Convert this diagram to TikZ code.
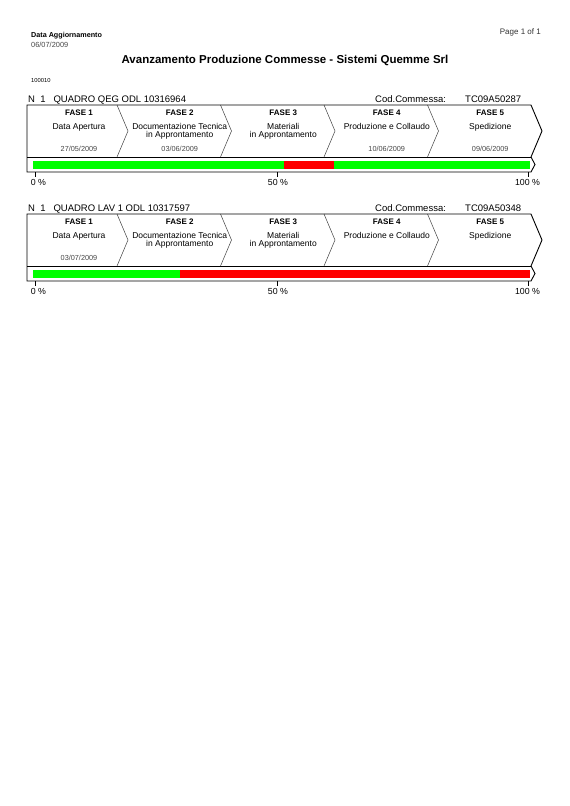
\documentclass[tikz,border=0pt]{standalone}
\usepackage{fontspec}
\setmainfont{Liberation Sans}
\definecolor{barGreen}{RGB}{0,255,0}
\definecolor{barRed}{RGB}{255,0,0}
\definecolor{dateGray}{RGB}{70,70,70}
\tikzset{
  txt/.style={inner sep=0pt, anchor=base},
  txtw/.style={inner sep=0pt, anchor=base west},
  txte/.style={inner sep=0pt, anchor=base east},
  fasefont/.style={txt, font=\fontsize{8}{9}\selectfont\bfseries},
  descfont/.style={txt, font=\fontsize{8.5}{9}\selectfont},
  datefont/.style={txt, font=\fontsize{7.3}{8}\selectfont, text=dateGray},
  headfont/.style={txtw, font=\fontsize{9.5}{11}\selectfont},
  pctfont/.style={txt, font=\fontsize{8.8}{10}\selectfont},
  frameline/.style={line width=0.9pt, black, line join=miter},
  chevline/.style={line width=0.5pt, black!75},
  tickline/.style={line width=0.8pt, black},
}
\newcommand{\qmframe}[3]{%
  % #1 prefix, #2 title, #3 code
  \node[headfont] (#1-title) at (28,102) {N~~1~~~#2};
  \node[headfont] (#1-codlab) at (375,102) {Cod.Commessa:};
  \node[headfont] (#1-code) at (465,102) {#3};
  \coordinate (#1-tl) at (27,105);
  \coordinate (#1-ml) at (27,157);
  \coordinate (#1-bl) at (27,172);
  \coordinate (#1-tr) at (531,105);
  \coordinate (#1-mr) at (531,157);
  \coordinate (#1-br) at (531,172);
  \coordinate (#1-tip) at (542,131);
  \coordinate (#1-btip) at (535,164.5);
  \foreach \xx in {117,220.5,324,427.5}{
    \draw[chevline] (\xx,105) -- (\xx+11,131) -- (\xx,157);
  }
  \draw[frameline] (#1-tip) -- (#1-tr) -- (#1-tl) -- (#1-bl) -- (#1-br) -- (#1-btip) -- (#1-mr) -- (#1-tip);
  \draw[frameline] (#1-ml) -- (#1-mr);
  \node[fasefont] (#1-f1) at (79,115.5) {FASE 1};
  \node[fasefont] (#1-f2) at (179.75,115.5) {FASE 2};
  \node[fasefont] (#1-f3) at (283.25,115.5) {FASE 3};
  \node[fasefont] (#1-f4) at (386.75,115.5) {FASE 4};
  \node[fasefont] (#1-f5) at (490.25,115.5) {FASE 5};
  \node[descfont] (#1-d1) at (79,129.5) {Data Apertura};
  \node[descfont] (#1-d2a) at (179.75,129.5) {Documentazione Tecnica};
  \node[descfont] (#1-d2b) at (179.75,137.5) {in Approntamento};
  \node[descfont] (#1-d3a) at (283.25,129.5) {Materiali};
  \node[descfont] (#1-d3b) at (283.25,137.5) {in Approntamento};
  \node[descfont] (#1-d4) at (386.75,129.5) {Produzione e Collaudo};
  \node[descfont] (#1-d5) at (490.25,129.5) {Spedizione};
  \coordinate (#1-t0a) at (35,172);   \coordinate (#1-t0b) at (35,176.5);
  \coordinate (#1-t50a) at (277,172); \coordinate (#1-t50b) at (277,176.5);
  \coordinate (#1-t100a) at (528,172);\coordinate (#1-t100b) at (528,176.5);
  \draw[tickline] (#1-t0a) -- (#1-t0b);
  \draw[tickline] (#1-t50a) -- (#1-t50b);
  \draw[tickline] (#1-t100a) -- (#1-t100b);
  \node[pctfont] (#1-p0) at (38.5,185) {0 \%};
  \node[pctfont] (#1-p50) at (278,185) {50 \%};
  \node[pctfont] (#1-p100) at (527.5,185) {100 \%};
}
\begin{document}
\begin{tikzpicture}[x=1pt,y=-1pt]
\fill[white] (0,0) rectangle (570,806);
\useasboundingbox (0,0) rectangle (570,806);
% header
\node[txtw, font=\fontsize{7.2}{8}\selectfont\bfseries] (hdata) at (31,37) {Data Aggiornamento};
\node[txtw, font=\fontsize{7.4}{8}\selectfont, text=dateGray] (hdate) at (31,47) {06/07/2009};
\node[txte, font=\fontsize{8}{9}\selectfont, text=black!80] (hpage) at (541,34.5) {Page 1 of 1};
\node[txt, font=\fontsize{11.5}{13}\selectfont\bfseries] (htitle) at (285,63.5) {Avanzamento Produzione Commesse - Sistemi Quemme Srl};
\node[txtw, font=\fontsize{5.8}{6}\selectfont] (hcode) at (31,82) {100010};
% block 1
\begin{scope}
  \fill[barGreen] (33,161) rectangle (284,168.5);
  \fill[barRed] (284,161) rectangle (334,168.5);
  \fill[barGreen] (334,161) rectangle (530,168.5);
  \qmframe{b1}{QUADRO QEG ODL 10316964}{TC09A50287}
  \node[datefont] (b1-dt1) at (79,151.5) {27/05/2009};
  \node[datefont] (b1-dt2) at (179.75,151.5) {03/06/2009};
  \node[datefont] (b1-dt4) at (386.75,151.5) {10/06/2009};
  \node[datefont] (b1-dt5) at (490.25,151.5) {09/06/2009};
\end{scope}
% block 2
\begin{scope}[yshift=-109pt]
  \fill[barGreen] (33,161) rectangle (180,168.5);
  \fill[barRed] (180,161) rectangle (530,168.5);
  \qmframe{b2}{QUADRO LAV 1 ODL 10317597}{TC09A50348}
  \node[datefont] (b2-dt1) at (79,151.5) {03/07/2009};
\end{scope}
\end{tikzpicture}
\end{document}
